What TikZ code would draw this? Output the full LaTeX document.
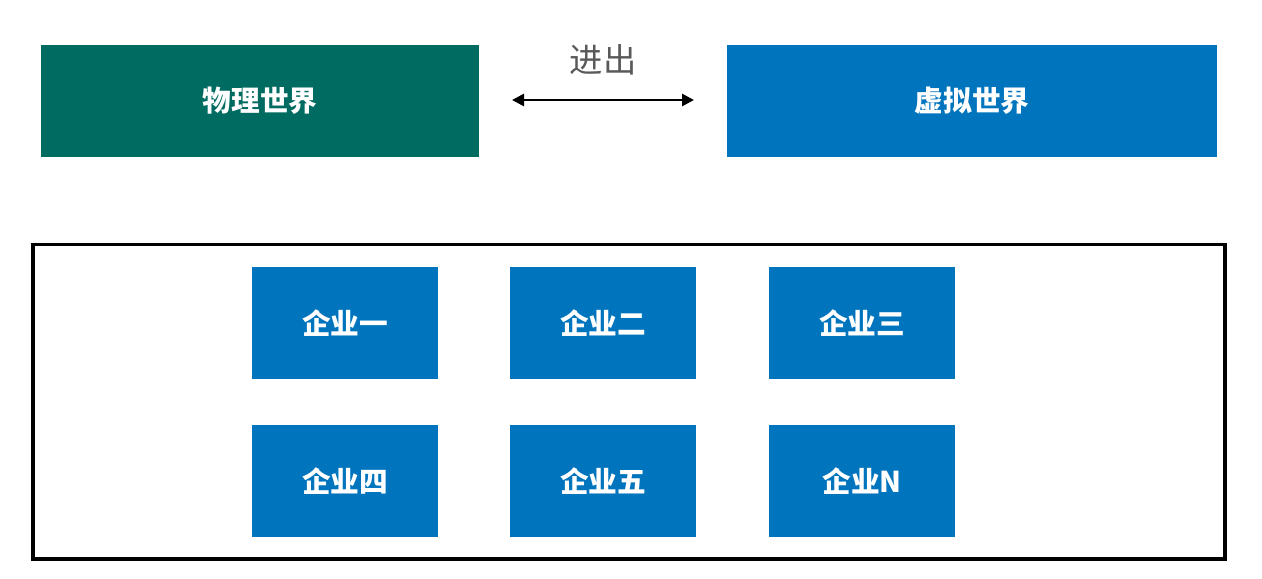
\documentclass[tikz,border=0pt]{standalone}
\usepackage{fontspec}
\newfontfamily\cjk{Noto Sans CJK SC}
\usetikzlibrary{arrows.meta}
\definecolor{boxgreen}{RGB}{0,107,96}
\definecolor{boxblue}{RGB}{0,117,190}
\definecolor{labgray}{RGB}{89,89,89}
\begin{document}
\begin{tikzpicture}[x=0.75pt,y=-0.75pt,
  bigbox/.style={fill=#1,draw=none,inner sep=0pt,text=white,font=\cjk\bfseries\fontsize{21.5}{26}\selectfont},
  firm/.style={fill=boxblue,draw=none,inner sep=0pt,minimum width=186*0.75pt,minimum height=112*0.75pt,text=white,font=\cjk\bfseries\fontsize{21.5}{26}\selectfont}]
\useasboundingbox[fill=white] (0,0) rectangle (1262,578);
\node[bigbox=boxgreen,minimum width=438*0.75pt,minimum height=112*0.75pt] (phys) at (260,101) {物理世界};
\node[bigbox=boxblue,minimum width=490*0.75pt,minimum height=112*0.75pt] (virt) at (972,101) {虚拟世界};
\coordinate (al) at (512,100);
\coordinate (ar) at (694,100);
\draw[line width=2pt,{Triangle[length=9pt,width=9pt]}-{Triangle[length=9pt,width=9pt]}] (al) -- (ar);
\node[text=labgray,font=\cjk\fontsize{25}{30}\selectfont] (io) at (603,60) {进出};
\draw[line width=2.4pt] (33,244.5) rectangle (1225,559);
\node[firm] (f1) at (345,323) {企业一};
\node[firm] (f2) at (603,323) {企业二};
\node[firm] (f3) at (862,323) {企业三};
\node[firm] (f4) at (345,481) {企业四};
\node[firm] (f5) at (603,481) {企业五};
\node[firm] (f6) at (862,481) {企业N};
\end{tikzpicture}
\end{document}
